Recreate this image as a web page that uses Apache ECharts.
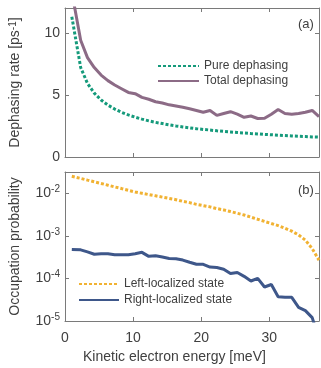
<!DOCTYPE html>
<html>
<head>
<meta charset="utf-8">
<script src="https://cdn.jsdelivr.net/npm/echarts@6/dist/echarts.min.js"></script>
<style>
  html, body { margin: 0; padding: 0; background: #fff; }
  #chart { width: 321px; height: 368px; }
</style>
</head>
<body>
<div id="chart"></div>
<script>
// kinetic electron energy grid [meV]
var energy = [1, 2.3, 3.3, 4.3, 5.3, 6.3, 7.3, 8.3, 9.3, 10.3, 11.3, 12.3, 13.3, 14.3, 15.3, 16.3, 17.3, 18.3, 19.3,
  20.3, 21.3, 22.3, 23.3, 24.3, 25.3, 26.3, 27.3, 28.3, 29.3, 30.3, 31.3, 32.3, 33.3, 34.3, 35.3, 36.3, 37.3];

// (a) dephasing rates [ps^-1]
var pureDephasing = [11.3, 7.21, 5.93, 5.14, 4.59, 4.18, 3.86, 3.6, 3.39, 3.21, 3.05, 2.91, 2.79, 2.69, 2.59, 2.5, 2.42, 2.35, 2.28,
  2.22, 2.17, 2.11, 2.06, 2.02, 1.97, 1.93, 1.89, 1.86, 1.82, 1.79, 1.76, 1.73, 1.7, 1.67, 1.65, 1.62, 1.6];
var totalDephasing = [13.3, 9.4, 8.0, 7.2, 6.6, 6.15, 5.8, 5.5, 5.2, 5.1, 4.8, 4.65, 4.45, 4.35, 4.2, 4.1, 4.0, 3.88, 3.75,
  3.6, 3.75, 3.35, 3.5, 3.65, 3.45, 3.2, 3.3, 3.1, 3.12, 3.45, 3.82, 3.5, 3.45, 3.5, 3.6, 3.75, 3.25];

// (b) occupation probabilities
var leftState = [0.0251, 0.0224, 0.0204, 0.0186, 0.017, 0.0155, 0.0141, 0.0129, 0.0117, 0.0107, 0.01, 0.00933, 0.00871, 0.00813,
  0.00759, 0.00708, 0.00646, 0.00603, 0.0055, 0.00513, 0.00479, 0.00437, 0.00407, 0.00372, 0.00339, 0.00309, 0.00275,
  0.00245, 0.00219, 0.00195, 0.00174, 0.00151, 0.00129, 0.00105, 0.000794, 0.000501, 0.000269];
var rightState = [4.8e-4, 4.7e-4, 4.2e-4, 3.7e-4, 3.8e-4, 3.8e-4, 3.6e-4, 3.6e-4, 3.6e-4, 3.8e-4, 4.1e-4, 3.3e-4, 3.4e-4, 3.2e-4,
  2.95e-4, 2.9e-4, 2.7e-4, 2.4e-4, 2.15e-4, 2.15e-4, 1.85e-4, 1.8e-4, 1.65e-4, 1.3e-4, 1.38e-4, 1.12e-4, 8.7e-5,
  1.0e-4, 6.3e-5, 7.2e-5, 3.7e-5, 3.6e-5, 3.6e-5, 2.1e-5, 1.75e-5, 1.2e-5, 3.8e-6];

var xMax = 37.3;
var font = 'Liberation Sans, Arial, sans-serif';
var textColor = '#404040';
var axisColor = '#7a7a7a';

function pairs(ys) {
  return energy.map(function (x, i) { return [x, ys[i]]; });
}

function boxAxis(extra) {
  var base = {
    axisLine: { show: true, onZero: false, lineStyle: { color: axisColor, width: 1 } },
    axisTick: { show: true, inside: true, length: 4, lineStyle: { color: axisColor } },
    axisLabel: { show: false },
    splitLine: { show: false }
  };
  return Object.assign(base, extra);
}

function powLabel(v) {
  var e = Math.log10(v);
  if (Math.abs(e - Math.round(e)) > 1e-6) return '';
  return '{b|10}{s|' + Math.round(e) + '}';
}

var logLabel = {
  show: true, margin: 5, color: textColor, fontFamily: font, showMaxLabel: false,
  formatter: powLabel,
  rich: {
    b: { fontSize: 14, fontFamily: font, color: textColor, lineHeight: 18 },
    s: { fontSize: 10, fontFamily: font, color: textColor, verticalAlign: 'top', lineHeight: 10 }
  }
};

var option = {
  animation: false,
  backgroundColor: '#fff',
  grid: [
    { left: 63, right: 2, top: 8, height: 149 },
    { left: 63, right: 2, top: 172, height: 149 }
  ],
  xAxis: [
    boxAxis({ gridIndex: 0, type: 'value', position: 'bottom', min: 0, max: xMax, interval: 10 }),
    boxAxis({ gridIndex: 0, type: 'value', position: 'top', min: 0, max: xMax, interval: 10 }),
    boxAxis({ gridIndex: 1, type: 'value', position: 'bottom', min: 0, max: xMax, interval: 10,
      axisLabel: { show: true, margin: 10, fontSize: 14, fontFamily: font, color: textColor, showMaxLabel: false } }),
    boxAxis({ gridIndex: 1, type: 'value', position: 'top', min: 0, max: xMax, interval: 10 })
  ],
  yAxis: [
    boxAxis({ gridIndex: 0, type: 'value', position: 'left', min: 0, max: 12, interval: 5,
      axisLabel: { show: true, margin: 5, fontSize: 14, fontFamily: font, color: textColor, showMaxLabel: false },
      name: 'Dephasing rate [ps{s|-1}]', nameLocation: 'middle', nameRotate: 90, nameGap: 43,
      nameTextStyle: { fontSize: 14, fontFamily: font, color: textColor,
        rich: { s: { fontSize: 10, fontFamily: font, color: textColor, verticalAlign: 'top', lineHeight: 10 } } } }),
    boxAxis({ gridIndex: 0, type: 'value', position: 'right', min: 0, max: 12, interval: 5 }),
    boxAxis({ gridIndex: 1, type: 'log', position: 'left', min: 1e-5, max: Math.pow(10, -1.5), logBase: 10,
      axisLabel: logLabel,
      name: 'Occupation probability', nameLocation: 'middle', nameRotate: 90, nameGap: 43,
      nameTextStyle: { fontSize: 14, fontFamily: font, color: textColor } }),
    boxAxis({ gridIndex: 1, type: 'log', position: 'right', min: 1e-5, max: Math.pow(10, -1.5), logBase: 10 })
  ],
  legend: [
    {
      data: ['Pure dephasing', 'Total dephasing'],
      orient: 'vertical', left: 157, top: 60, itemWidth: 41, itemHeight: 14, itemGap: 3, padding: 0,
      itemStyle: { opacity: 0 },
      textStyle: { fontSize: 12, fontFamily: font, color: textColor }
    },
    {
      data: ['Left-localized state', 'Right-localized state'],
      orient: 'vertical', left: 78, top: 278, itemWidth: 40, itemHeight: 14, itemGap: 4, padding: 0,
      itemStyle: { opacity: 0 },
      textStyle: { fontSize: 12, fontFamily: font, color: textColor }
    }
  ],
  graphic: [
    { type: 'text', left: 298, top: 18, style: { text: '(a)', fontSize: 13, fontFamily: font, fill: textColor } },
    { type: 'text', left: 298, top: 184, style: { text: '(b)', fontSize: 13, fontFamily: font, fill: textColor } },
    { type: 'text', left: 83, top: 350, style: { text: 'Kinetic electron energy [meV]', fontSize: 14, fontFamily: font, fill: textColor } }
  ],
  series: [
    {
      name: 'Pure dephasing', type: 'line', xAxisIndex: 0, yAxisIndex: 0, data: pairs(pureDephasing),
      showSymbol: false, symbol: 'none', color: '#159a7b',
      lineStyle: { width: 3, type: [3, 2], cap: 'butt', color: '#159a7b' }
    },
    {
      name: 'Total dephasing', type: 'line', xAxisIndex: 0, yAxisIndex: 0, data: pairs(totalDephasing),
      showSymbol: false, symbol: 'none', color: '#8c6b86',
      lineStyle: { width: 3, color: '#8c6b86' }
    },
    {
      name: 'Left-localized state', type: 'line', xAxisIndex: 2, yAxisIndex: 2, data: pairs(leftState),
      showSymbol: false, symbol: 'none', color: '#f1b232',
      lineStyle: { width: 3, type: [3, 2], cap: 'butt', color: '#f1b232' }
    },
    {
      name: 'Right-localized state', type: 'line', xAxisIndex: 2, yAxisIndex: 2, data: pairs(rightState),
      showSymbol: false, symbol: 'none', color: '#3e578a',
      lineStyle: { width: 3, color: '#3e578a' }
    }
  ]
};

var myChart = echarts.init(document.getElementById('chart'), null, { renderer: 'canvas' });
myChart.setOption(option);
</script>
</body>
</html>
